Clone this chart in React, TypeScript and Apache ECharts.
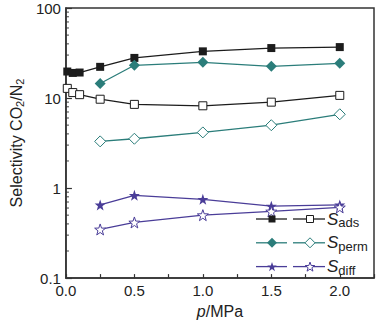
import React, { useEffect, useRef } from "react";
import * as echarts from "echarts";

const pAds = [0.01, 0.05, 0.1, 0.25, 0.5, 1.0, 1.5, 2.0];
const adsFilled = [19.7, 19.0, 19.2, 22.2, 27.9, 33.0, 35.9, 36.8];
const adsOpen = [12.8, 11.5, 10.9, 9.7, 8.5, 8.2, 9.0, 10.7];
const pMem = [0.25, 0.5, 1.0, 1.5, 2.0];
const permFilled = [14.5, 23.1, 24.9, 22.5, 24.3];
const permOpen = [3.3, 3.53, 4.15, 4.99, 6.6];
const diffFilled = [0.65, 0.83, 0.75, 0.63, 0.65];
const diffOpen = [0.347, 0.415, 0.5, 0.55, 0.61];
const yMinorTicks = [0.2, 0.3, 0.4, 0.5, 0.6, 0.7, 0.8, 0.9, 2, 3, 4, 5, 6, 7, 8, 9, 20, 30, 40, 50, 60, 70, 80, 90];
const legendLabels = ["ads", "perm", "diff"];

const BLACK = "#1c1c1c";
const TEAL = "#2b7d7a";
const PURPLE = "#4a3d98";
const STAR =
  "path://M0,-10 L2.35,-3.24 L9.51,-3.09 L3.8,1.24 L5.88,8.09 L0,4 L-5.88,8.09 L-3.8,1.24 L-9.51,-3.09 L-2.35,-3.24 Z";

const zip = (xs: number[], ys: number[]) => xs.map((x, i) => [x, ys[i]]);

function lineSeries(name: string, xs: number[], ys: number[], color: string, symbol: string, size: number, filled: boolean) {
  return {
    name,
    type: "line",
    data: zip(xs, ys),
    symbol,
    symbolSize: size,
    showAllSymbol: true,
    lineStyle: { color, width: 1.3 },
    itemStyle: filled
      ? { color, borderColor: color, borderWidth: 0 }
      : { color: "#ffffff", borderColor: color, borderWidth: 1 },
    z: filled ? 3 : 4,
  };
}

function starPoints(cx: number, cy: number, r: number) {
  const pts: number[][] = [];
  for (let k = 0; k < 10; k++) {
    const rr = k % 2 === 0 ? r : r * 0.4;
    const a = -Math.PI / 2 + (k * Math.PI) / 5;
    pts.push([cx + rr * Math.cos(a), cy + rr * Math.sin(a)]);
  }
  return pts;
}

function legendSymbol(kind: string, cx: number, cy: number, color: string, filled: boolean) {
  const style = filled
    ? { fill: color, stroke: color, lineWidth: 0 }
    : { fill: "#fff", stroke: color, lineWidth: 1 };
  if (kind === "rect") return { type: "rect", shape: { x: cx - 3.5, y: cy - 3.5, width: 7, height: 7 }, style, z: 11 };
  if (kind === "diamond")
    return {
      type: "polygon",
      shape: { points: [[cx, cy - 5], [cx + 5, cy], [cx, cy + 5], [cx - 5, cy]] },
      style,
      z: 11,
    };
  return { type: "polygon", shape: { points: starPoints(cx, cy + 0.5, 5) }, style, z: 11 };
}

export default function App() {
  const ref = useRef<HTMLDivElement>(null);
  useEffect(() => {
    document.body.style.margin = "0";
    const chart = echarts.init(ref.current!, null, { renderer: "svg" });
    const font = "Liberation Sans, Arial, sans-serif";
    const rowKinds = ["rect", "diamond", "star"];
    const rowColors = [BLACK, TEAL, PURPLE];
    const legendGraphics: any[] = [];
    legendLabels.forEach((lab, i) => {
      const cy = 219 + i * 23.8;
      const c = rowColors[i];
      legendGraphics.push(
        { type: "line", shape: { x1: 256, y1: cy, x2: 287, y2: cy }, style: { stroke: c, lineWidth: 1.3 }, z: 10 },
        { type: "line", shape: { x1: 293, y1: cy, x2: 325, y2: cy }, style: { stroke: c, lineWidth: 1.3 }, z: 10 },
        legendSymbol(rowKinds[i], 272, cy, c, true),
        legendSymbol(rowKinds[i], 310, cy, c, false),
        {
          type: "text",
          x: 327,
          y: cy - 10,
          z: 10,
          style: {
            text: `{i|S}{s|${lab}}`,
            rich: {
              i: { fontStyle: "italic", fontSize: 17, fontFamily: font, fill: "#222" },
              s: { fontSize: 13, fontFamily: font, fill: "#222", padding: [7, 0, 0, 0] },
            },
          },
        }
      );
    });
    chart.setOption({
      animation: false,
      textStyle: { fontFamily: font },
      grid: {
        left: 53,
        right: 4,
        top: 8,
        bottom: 43,
        show: true,
        borderColor: "#333",
        borderWidth: 1.5,
        backgroundColor: "transparent",
      },
      xAxis: {
        type: "value",
        min: 0,
        max: 2.25,
        interval: 0.25,
        name: "{i|p}/MPa",
        nameLocation: "middle",
        nameGap: 22,
        nameTextStyle: {
          fontSize: 16,
          color: "#222",
          fontFamily: font,
          rich: { i: { fontStyle: "italic", fontSize: 16, fontFamily: font, color: "#222" } },
        },
        axisLine: { lineStyle: { color: "#333", width: 1.5 } },
        axisTick: { inside: true, length: 4, lineStyle: { color: "#333", width: 1.2 } },
        splitLine: { show: false },
        axisLabel: {
          fontSize: 15,
          color: "#222",
          margin: 5,
          formatter: (v: number) => (Math.abs(v * 2 - Math.round(v * 2)) < 1e-6 ? v.toFixed(1) : ""),
        },
      },
      yAxis: {
        type: "log",
        logBase: 10,
        min: 0.1,
        max: 100,
        name: "Selectivity CO{s|2}/N{s|2}",
        nameLocation: "middle",
        nameGap: 32,
        nameTextStyle: {
          fontSize: 16,
          color: "#222",
          fontFamily: font,
          rich: { s: { fontSize: 11, padding: [7, 0, 0, 0], fontFamily: font, color: "#222" } },
        },
        axisLine: { lineStyle: { color: "#333", width: 1.5 } },
        axisTick: { inside: true, length: 6, lineStyle: { color: "#333", width: 1.2 } },
        splitLine: { show: false },
        axisLabel: {
          fontSize: 15,
          color: "#222",
          margin: 5,
          formatter: (v: number) => String(Math.round(v * 10) / 10),
        },
      },
      graphic: legendGraphics,
      series: [
        lineSeries("ads-f", pAds, adsFilled, BLACK, "rect", 8, true),
        lineSeries("ads-o", pAds, adsOpen, BLACK, "rect", 8, false),
        lineSeries("perm-f", pMem, permFilled, TEAL, "diamond", 11, true),
        lineSeries("perm-o", pMem, permOpen, TEAL, "diamond", 11, false),
        lineSeries("diff-f", pMem, diffFilled, PURPLE, STAR, 11, true),
        lineSeries("diff-o", pMem, diffOpen, PURPLE, STAR, 11, false),
        {
          name: "minor",
          type: "scatter",
          data: yMinorTicks.map((v) => [0, v]),
          symbol: "rect",
          symbolSize: [3, 1.2],
          symbolOffset: [1.5, 0],
          itemStyle: { color: "#333" },
          clip: false,
          silent: true,
          z: 1,
        },
      ],
    });
    return () => chart.dispose();
  }, []);
  return <div ref={ref} style={{ width: 378, height: 324 }} />;
}
